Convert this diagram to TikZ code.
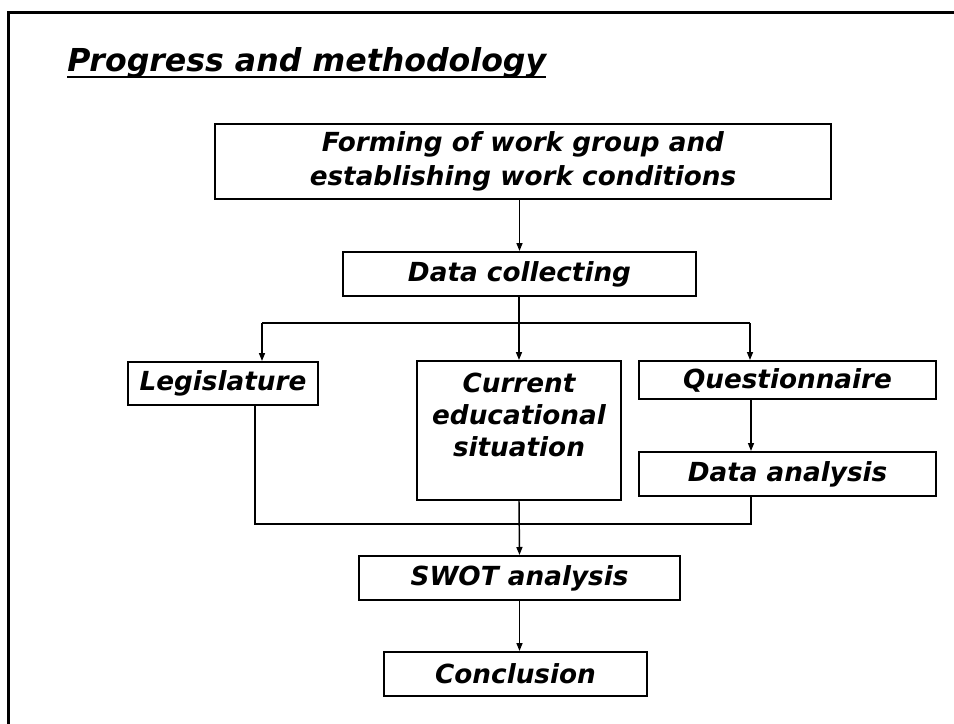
\documentclass[tikz,border=0pt]{standalone}
\usepackage{fontspec}
\setmainfont{DejaVu Sans}
\usetikzlibrary{arrows.meta}

\begin{document}
\begin{tikzpicture}[x=0.75pt,y=-0.75pt,
		box/.style={draw,line width=1.5pt,inner sep=0pt,align=center,font=\fontsize{19.7}{24}\selectfont\bfseries\itshape},
		arr/.style={line width=1.1pt,-{Triangle[length=6pt,width=4.5pt]}},
		link/.style={line width=1.1pt}]
	\useasboundingbox (0,0) rectangle (954,724);
	\draw[line width=2.25pt] (8,724) -- (8,13) -- (954,13);
	\node[anchor=base west,inner sep=0pt,font=\fontsize{23.7}{28}\selectfont\bfseries\itshape] (title) at (67,72) {Progress and methodology};
	\draw[line width=1.8pt] ([yshift=-3.75pt]title.base west) -- ([yshift=-3.75pt]title.base east);
	% boxes
	\node[box,minimum width=462pt,minimum height=56.25pt,font=\fontsize{19.7}{25}\selectfont\bfseries\itshape] (form) at (523,161.5) {Forming of work group and\\establishing work conditions};
	\node[box,minimum width=264.75pt,minimum height=33pt] (collect) at (519.5,274) {Data collecting};
	\node[box,minimum width=142.5pt,minimum height=32.25pt] (legis) at (223,383.5) {Legislature};
	\node[box,minimum width=153pt,minimum height=104.25pt] (current) at (519,430.5) {};
	\node[anchor=north,inner sep=0pt,align=center,font=\fontsize{19.7}{24}\selectfont\bfseries\itshape] (currenttext) at ([yshift=-9.75pt]current.north) {Current\\educational\\situation};
	\node[box,minimum width=222.75pt,minimum height=28.5pt] (quest) at (787.5,380) {Questionnaire};
	\node[box,minimum width=222.75pt,minimum height=33pt] (analysis) at (787.5,474) {Data analysis};
	\node[box,minimum width=240.75pt,minimum height=33pt] (swot) at (519.5,578) {SWOT analysis};
	\node[box,minimum width=197.25pt,minimum height=33pt] (concl) at (515.5,674) {Conclusion};
	% connectors
	\coordinate (split) at (519,323);
	\coordinate (lsplit) at (262,323);
	\coordinate (rsplit) at (750,323);
	\coordinate (ljoin) at (255,524);
	\coordinate (rjoin) at (751,524);
	\draw[arr] (collect.north |- form.south) -- (collect.north);
	\draw[link] (split |- collect.south) -- (split);
	\draw[link] (lsplit) -- (rsplit);
	\draw[arr] (lsplit) -- (lsplit |- legis.north);
	\draw[arr] (split) -- (current.north);
	\draw[arr] (rsplit) -- (rsplit |- quest.north);
	\draw[arr] (rjoin |- quest.south) -- (rjoin |- analysis.north);
	\draw[link] (ljoin |- legis.south) -- (ljoin) -- (rjoin) -- (rjoin |- analysis.south);
	\draw[arr] (current.south) -- (swot.north);
	\draw[arr] (swot.south) -- (swot.south |- concl.north);
\end{tikzpicture}
\end{document}
